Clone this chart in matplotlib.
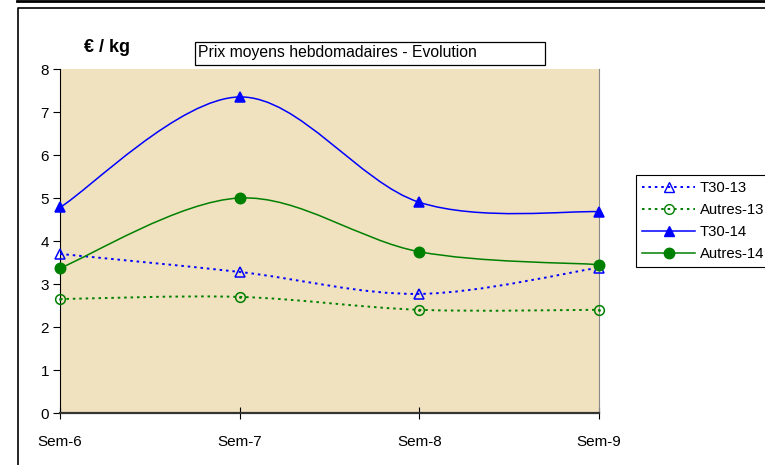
import matplotlib
matplotlib.use('Agg')
import matplotlib.pyplot as plt
from matplotlib.path import Path
from matplotlib.patches import PathPatch, Rectangle
from matplotlib.lines import Line2D
import numpy as np

plt.rcParams['font.family'] = ['Liberation Sans', 'DejaVu Sans']

# ---------------------------------------------------------------------------
# Data
# ---------------------------------------------------------------------------
weeks = ['Sem-6', 'Sem-7', 'Sem-8', 'Sem-9']
t30_13 = [3.70, 3.28, 2.77, 3.38]
autres_13 = [2.65, 2.70, 2.40, 2.40]
t30_14 = [4.78, 7.35, 4.90, 4.68]
autres_14 = [3.37, 5.00, 3.75, 3.45]

W, H = 765, 465
BG = '#F0E1BF'


def smooth_path(xs, ys):
    """Excel-like smoothed line: Catmull-Rom segments as cubic Bezier."""
    pts = np.column_stack([xs, ys]).astype(float)
    ext = np.vstack([pts[0], pts, pts[-1]])
    verts = [pts[0]]
    codes = [Path.MOVETO]
    for i in range(1, len(ext) - 2):
        p0, p1, p2, p3 = ext[i - 1], ext[i], ext[i + 1], ext[i + 2]
        verts += [p1 + (p2 - p0) / 6, p2 - (p3 - p1) / 6, p2]
        codes += [Path.CURVE4] * 3
    return Path(verts, codes)


fig = plt.figure(figsize=(W / 100, H / 100), dpi=100)
ax = fig.add_axes([60 / W, 1 - 413 / H, (599 - 60) / W, (413 - 69) / H])
ax.set_facecolor(BG)

x = np.arange(len(weeks))
dots = (0, (1.3, 2.0))
series = [
    ('T30-13', t30_13, 'blue', dots, '^', 'none'),
    ('Autres-13', autres_13, 'green', dots, 'o', 'none'),
    ('T30-14', t30_14, 'blue', '-', '^', 'blue'),
    ('Autres-14', autres_14, 'green', '-', 'o', 'green'),
]

handles = []
for name, vals, col, ls, mk, mfc in series:
    lw = 1.4 if ls != '-' else 1.1
    ax.add_patch(PathPatch(smooth_path(x, vals), fill=False, edgecolor=col,
                           linestyle=ls, linewidth=lw, zorder=3))
    ms = 7.5 if mfc != 'none' else 7
    ax.plot(x, vals, linestyle='none', marker=mk, markersize=ms,
            markerfacecolor=mfc, markeredgecolor=col, markeredgewidth=1.1,
            zorder=4, clip_on=False)
    if mfc == 'none' and mk == 'o':
        ax.plot(x, vals, linestyle='none', marker='.', markersize=2,
                color=col, zorder=5, clip_on=False)
    handles.append(Line2D([], [], color=col, linestyle=ls, linewidth=lw,
                          marker=mk, markersize=ms, markerfacecolor=mfc,
                          markeredgecolor=col, label=name))

ax.set_xlim(0, 3)
ax.set_ylim(0, 8)
ax.set_xticks(x)
ax.set_xticklabels(weeks, fontsize=11)
ax.set_yticks(range(0, 9))
ax.tick_params(axis='y', direction='out', length=5, labelsize=11, pad=3)
ax.tick_params(axis='x', direction='inout', length=8, labelsize=11, pad=12)

ax.spines['top'].set_visible(False)
ax.spines['left'].set_color('black')
ax.spines['bottom'].set_color('#333333')
ax.spines['bottom'].set_linewidth(1.6)
ax.spines['right'].set_color('#888888')

# ── Legend ────────────────────────────────────────────────────────────────
leg = fig.legend(handles=handles, loc='upper left',
                 bbox_to_anchor=(636 / W, 1 - 175 / H), borderaxespad=0,
                 fontsize=10.7, handlelength=3.6, handletextpad=0.3,
                 labelspacing=0.55, borderpad=0.4, fancybox=False,
                 framealpha=1, edgecolor='black')
leg.get_frame().set_linewidth(0.8)

# ── Title box and unit label ──────────────────────────────────────────────
fig.patches.append(Rectangle((195 / W, 1 - 65 / H), 350 / W, 23 / H,
                             transform=fig.transFigure, facecolor='white',
                             edgecolor='black', linewidth=0.9))
fig.text(198 / W, 1 - 53 / H, 'Prix moyens hebdomadaires - Evolution',
         fontsize=11.3, va='center', ha='left')
fig.text(84 / W, 1 - 47 / H, '€ / kg', fontsize=13, fontweight='bold',
         va='center', ha='left')

# ── Outer frame lines ─────────────────────────────────────────────────────
fig.add_artist(Line2D([17 / W, 1], [1 - 1.5 / H, 1 - 1.5 / H],
                      transform=fig.transFigure, color='black', linewidth=2))
fig.add_artist(Line2D([17.5 / W, 17.5 / W, 1], [0, 1 - 8.5 / H, 1 - 8.5 / H],
                      transform=fig.transFigure, color='black', linewidth=1.2))

fig.savefig('out.png', dpi=100)
